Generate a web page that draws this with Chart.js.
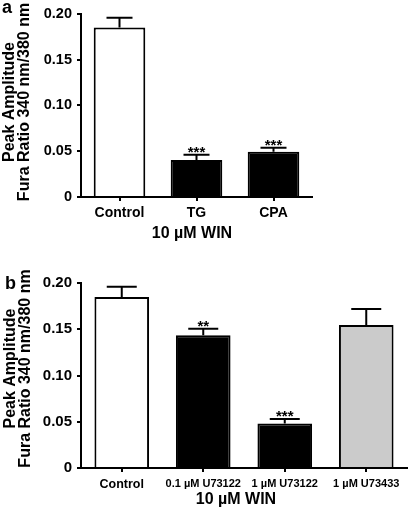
<!DOCTYPE html>
<html>
<head>
<meta charset="utf-8">
<script src="https://cdn.jsdelivr.net/npm/chart.js@4.4.1/dist/chart.umd.min.js"></script>
<style>
html,body{margin:0;padding:0;background:#fff;}
#wrap{position:relative;width:410px;height:512px;background:#fff;}
canvas{position:absolute;left:0;}
#ca{top:0;}
#cb{top:250px;}
</style>
</head>
<body>
<div id="wrap">
<canvas id="ca" width="410" height="250"></canvas>
<canvas id="cb" width="410" height="262"></canvas>
</div>
<script>
// ---- Data ----
const aCategories = ['Control', 'TG', 'CPA'];
const aValues = [0.185, 0.0405, 0.0495];
const aErrors = [0.0105, 0.0055, 0.0043];
const aSig = ['', '***', '***'];

const bCategories = ['Control', '0.1 \u00b5M U73122', '1 \u00b5M U73122', '1 \u00b5M U73433'];
const bValues = [0.185, 0.1435, 0.048, 0.1545];
const bErrors = [0.011, 0.007, 0.005, 0.0175];
const bSig = ['', '**', '***', ''];

const yTicks = [0, 0.05, 0.10, 0.15, 0.20];
const yTitleLines = ['Peak Amplitude', 'Fura Ratio 340 nm/380 nm'];
const xTitle = '10 \u00b5M WIN';

const FONT = '"Liberation Sans", Arial, Helvetica, sans-serif';

function makeChart(canvasId, cfg) {
  const textPlugin = {
    id: 'extras' + canvasId,
    afterDatasetsDraw(chart) {
      const ctx = chart.ctx;
      const ys = chart.scales.y;
      const meta = chart.getDatasetMeta(0);
      ctx.save();
      ctx.strokeStyle = '#000';
      ctx.lineWidth = 2;
      meta.data.forEach((el, i) => {
        const v = cfg.values[i], e = cfg.errors[i];
        const yTop = ys.getPixelForValue(v + e);
        const yBar = ys.getPixelForValue(v);
        ctx.beginPath();
        ctx.moveTo(el.x, yBar);
        ctx.lineTo(el.x, yTop);
        ctx.moveTo(el.x - cfg.capHalf, yTop);
        ctx.lineTo(el.x + cfg.capHalf, yTop);
        ctx.stroke();
        if (cfg.sig[i]) {
          ctx.fillStyle = '#000';
          ctx.font = 'bold 15px ' + FONT;
          ctx.textAlign = 'center';
          ctx.textBaseline = 'alphabetic';
          ctx.fillText(cfg.sig[i], el.x, yTop + cfg.starDy);
        }
      });
      ctx.restore();
    },
    afterDraw(chart) {
      const ctx = chart.ctx;
      ctx.save();
      ctx.fillStyle = '#000';
      ctx.font = 'bold 18px ' + FONT;
      ctx.textAlign = 'left';
      ctx.textBaseline = 'alphabetic';
      ctx.fillText(cfg.letter, cfg.letterX, cfg.letterY);
      ctx.font = 'bold 16px ' + FONT;
      ctx.textAlign = 'center';
      ctx.fillText(xTitle, cfg.xTitleX, cfg.xTitleY);
      ctx.font = 'bold 16px ' + FONT;
      yTitleLines.forEach((line, k) => {
        ctx.save();
        ctx.translate(cfg.yTitleBase[k], cfg.yTitleCenter);
        ctx.rotate(-Math.PI / 2);
        ctx.textAlign = 'center';
        ctx.textBaseline = 'alphabetic';
        ctx.fillText(line, 0, 0);
        ctx.restore();
      });
      ctx.restore();
    }
  };

  return new Chart(document.getElementById(canvasId), {
    type: 'bar',
    data: {
      labels: cfg.categories,
      datasets: [{
        data: cfg.values,
        backgroundColor: cfg.colors,
        borderColor: '#000',
        borderWidth: 2,
        borderSkipped: 'start',
        inflateAmount: 0,
        barPercentage: cfg.barPct,
        categoryPercentage: 1
      }]
    },
    options: {
      responsive: false,
      animation: false,
      devicePixelRatio: 1,
      layout: { padding: { left: 0, top: cfg.padTop, right: cfg.padRight, bottom: 0 } },
      plugins: { legend: { display: false }, tooltip: { enabled: false } },
      scales: {
        x: {
          grid: { display: true, drawOnChartArea: false, drawTicks: true, tickLength: 4, color: '#000', lineWidth: 2, offset: false },
          border: { display: true, color: '#000', width: 2, z: 1 },
          ticks: {
            color: '#000',
            autoSkip: false,
            maxRotation: 0,
            minRotation: 0,
            padding: cfg.xTickPad,
            font: (c) => ({ family: FONT, weight: 'bold', size: cfg.xTickSize(c.index) })
          },
          afterFit(scale) { scale.height = cfg.xAxisH; }
        },
        y: {
          min: 0,
          max: 0.2,
          grid: { display: true, drawOnChartArea: false, drawTicks: true, tickLength: 4, color: '#000', lineWidth: 2 },
          border: { display: true, color: '#000', width: 2 },
          afterBuildTicks(scale) { scale.ticks = yTicks.map(v => ({ value: v })); },
          ticks: {
            color: '#000',
            padding: 5,
            font: { family: FONT, weight: 'bold', size: cfg.yTickSize },
            callback: (v) => (v === 0 ? '0' : Number(v).toFixed(2))
          },
          afterFit(scale) { scale.width = cfg.yAxisW; }
        }
      }
    },
    plugins: [textPlugin]
  });
}

makeChart('ca', {
  categories: aCategories, values: aValues, errors: aErrors, sig: aSig,
  colors: ['#ffffff', '#000000', '#000000'],
  barPct: 0.67, capHalf: 13, starDy: 2.5,
  padTop: 11, padRight: 98, xAxisH: 53, yAxisW: 81,
  xTickPad: 4, xTickSize: () => 14, yTickSize: 14.5,
  letter: 'a', letterX: 2, letterY: 13,
  xTitleX: 192, xTitleY: 238,
  yTitleBase: [14, 29], yTitleCenter: 102
});

makeChart('cb', {
  categories: bCategories, values: bValues, errors: bErrors, sig: bSig,
  colors: ['#ffffff', '#000000', '#000000', '#cbcbcb'],
  barPct: 0.67, capHalf: 15, starDy: 2,
  padTop: 33, padRight: 3, xAxisH: 44, yAxisW: 81,
  xTickPad: 5, xTickSize: (i) => (i === 0 ? 12.5 : 11), yTickSize: 15,
  letter: 'b', letterX: 5, letterY: 38.5,
  xTitleX: 236, xTitleY: 254,
  yTitleBase: [15, 30], yTitleCenter: 118.5
});
</script>
</body>
</html>
